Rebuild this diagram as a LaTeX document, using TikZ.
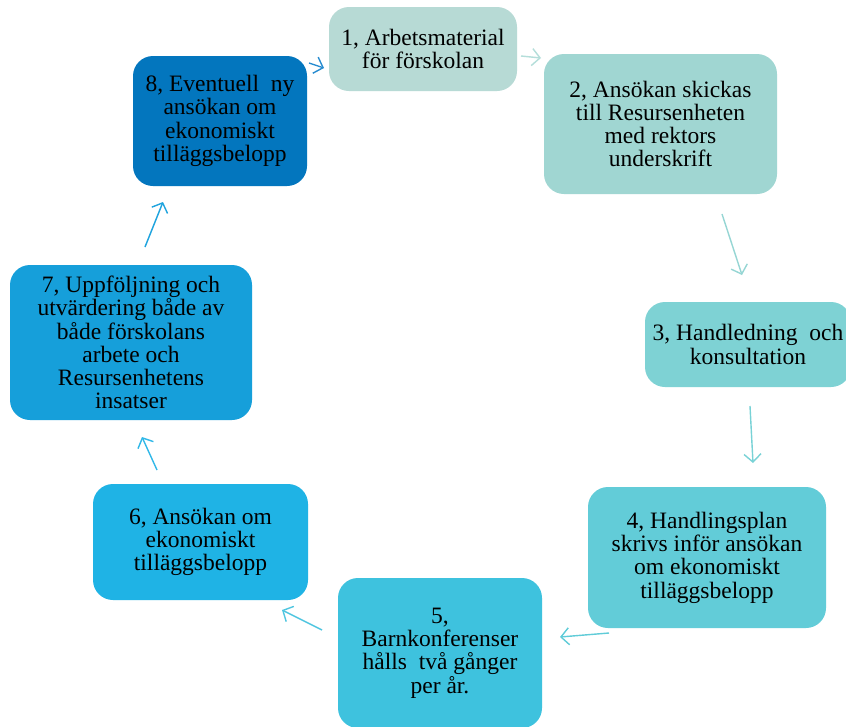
\documentclass[tikz,border=0pt]{standalone}
\usepackage{fontspec}
\setmainfont{Liberation Serif}
\usetikzlibrary{arrows.meta}
\definecolor{cA}{RGB}{183,218,213}
\definecolor{cB}{RGB}{160,214,210}
\definecolor{cC}{RGB}{126,210,212}
\definecolor{cD}{RGB}{98,204,216}
\definecolor{cE}{RGB}{62,194,222}
\definecolor{cF}{RGB}{31,179,229}
\definecolor{cG}{RGB}{22,159,218}
\definecolor{cH}{RGB}{3,118,190}
\definecolor{aA}{RGB}{180,222,218}
\definecolor{aB}{RGB}{150,214,212}
\definecolor{aC}{RGB}{120,210,214}
\definecolor{aD}{RGB}{96,204,216}
\definecolor{aE}{RGB}{80,198,224}
\definecolor{aF}{RGB}{48,184,232}
\definecolor{aG}{RGB}{32,164,222}
\definecolor{aH}{RGB}{40,140,208}
\newcommand{\boxfont}{\fontsize{23.5}{23.3}\selectfont}
\tikzset{
  stepbox/.style={rounded corners=20pt, inner sep=0pt, align=center, font=\boxfont, text=black},
  flowarrow/.style={line width=1.4pt, -{Straight Barb[length=8pt,width=17pt,line width=1.4pt]}}
}
\begin{document}
\begin{tikzpicture}[x=1pt,y=-1pt]
\useasboundingbox (0,0) rectangle (846,726);
\clip (0,0) rectangle (846,726);
\fill[white] (0,0) rectangle (846,726);
\node[stepbox, fill=cA, minimum width=188pt, minimum height=84pt] (b1) at (423,49) {1, Arbetsmaterial\\för förskolan};
\node[stepbox, fill=cB, minimum width=233pt, minimum height=140pt] (b2) at (660.5,124) {2, Ansökan skickas\\till Resursenheten\\med rektors\\underskrift};
\node[stepbox, fill=cC, minimum width=206pt, minimum height=85pt] (b3) at (748,344.5) {3, Handledning\ \ och\\konsultation};
\node[stepbox, fill=cD, minimum width=238pt, minimum height=141pt] (b4) at (707,557.5) {4, Handlingsplan\\skrivs inför ansökan\\om ekonomiskt\\tilläggsbelopp};
\node[stepbox, fill=cE, minimum width=204pt, minimum height=150pt] (b5) at (440,653) {5,\\Barnkonferenser\\hålls\ \ två gånger\\per år.};
\node[stepbox, fill=cF, minimum width=215pt, minimum height=116pt] (b6) at (200.5,542) {6, Ansökan om\\ekonomiskt\\tilläggsbelopp};
\node[stepbox, fill=cG, minimum width=242pt, minimum height=155pt] (b7) at (131,342.5) {7, Uppföljning och\\utvärdering både av\\både förskolans\\arbete och\\Resursenhetens\\insatser};
\node[stepbox, fill=cH, minimum width=174pt, minimum height=130pt] (b8) at (220,121) {8, Eventuell\ \ ny\\ansökan om\\ekonomiskt\\tilläggsbelopp};
% arrow end points
\coordinate (s81) at (309,63); \coordinate (e81) at (324,68);
\coordinate (s12) at (521,56); \coordinate (e12) at (541,58);
\coordinate (s23) at (722,214); \coordinate (e23) at (742,275);
\coordinate (s34) at (750,406); \coordinate (e34) at (753,463);
\coordinate (s45) at (609,633); \coordinate (e45) at (560,637);
\coordinate (s56) at (322,630); \coordinate (e56) at (282,610);
\coordinate (s67) at (157,470); \coordinate (e67) at (142,437);
\coordinate (s78) at (145,247); \coordinate (e78) at (163,202);
\draw[flowarrow, aH] (s81) -- (e81);
\draw[flowarrow, aA] (s12) -- (e12);
\draw[flowarrow, aB] (s23) -- (e23);
\draw[flowarrow, aC] (s34) -- (e34);
\draw[flowarrow, aD] (s45) -- (e45);
\draw[flowarrow, aE] (s56) -- (e56);
\draw[flowarrow, aF] (s67) -- (e67);
\draw[flowarrow, aG] (s78) -- (e78);
\end{tikzpicture}
\end{document}
